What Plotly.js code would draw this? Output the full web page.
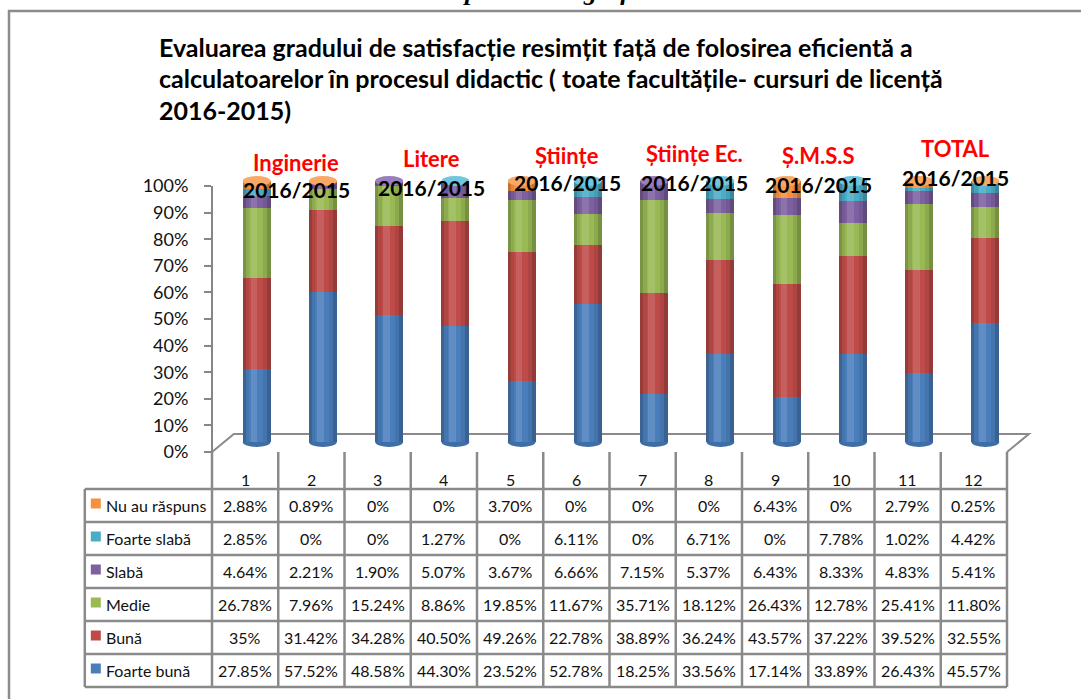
<!DOCTYPE html>
<html>
<head>
<meta charset="utf-8">
<script src="https://cdn.plot.ly/plotly-3.0.1.min.js"></script>
<style>html,body{margin:0;padding:0;background:#fff;overflow:hidden;}#chart{width:1081px;height:699px;overflow:hidden;}</style>
</head>
<body>
<div id="chart"></div>
<script>
// ---------- DATA ----------
const columns = ['1','2','3','4','5','6','7','8','9','10','11','12'];
const seriesNames = ['Foarte bună','Bună','Medie','Slabă','Foarte slabă','Nu au răspuns'];
const foarteBuna   = [27.85,57.52,48.58,44.30,23.52,52.78,18.25,33.56,17.14,33.89,26.43,45.57];
const buna         = [35,31.42,34.28,40.50,49.26,22.78,38.89,36.24,43.57,37.22,39.52,32.55];
const medie        = [26.78,7.96,15.24,8.86,19.85,11.67,35.71,18.12,26.43,12.78,25.41,11.80];
const slaba        = [4.64,2.21,1.90,5.07,3.67,6.66,7.15,5.37,6.43,8.33,4.83,5.41];
const foarteSlaba  = [2.85,0,0,1.27,0,6.11,0,6.71,0,7.78,1.02,4.42];
const nuAuRaspuns  = [2.88,0.89,0,0,3.70,0,0,0,6.43,0,2.79,0.25];
const groupNames   = ['Inginerie','Litere','Științe','Științe Ec.','Ș.M.S.S','TOTAL'];
const groupYear    = '2016/2015';
const titleLines   = ['Evaluarea gradului de satisfacție resimțit față de folosirea eficientă a',
                      'calculatoarelor în procesul didactic ( toate facultățile- cursuri de licență',
                      '2016-2015)'];
const pageHeading  = 'Reprezentare grafică';

// ---------- STYLE / LAYOUT ----------
const W = 1081, H = 699;
const py = p => 1 - p / H;          // pixel row -> paper y
const colors    = ['#4A7EBB','#BE4B48','#98B954','#7D60A0','#4BACC6','#F6913F'];
const capColors = ['#6B97CF','#D46A67','#B3D274','#9A7FBD','#6FC6DE','#F9A965'];
const seriesData = [foarteBuna, buna, medie, slaba, foarteSlaba, nuAuRaspuns];
const x = columns.map((c,i)=>i+1);
const totals = x.map((xi, i) => seriesData.reduce((a, arr) => a + arr[i], 0));
const barW = 0.42, barShift = 0.174;   // cylinder width and 3D shift (x units)
const FONT = 'Lato, "Open Sans", sans-serif';
const gridColor = '#8a8a8a';

const traces = seriesData.map((vals, s) => ({
  type: 'bar', x: x, y: vals, name: seriesNames[s],
  xaxis: 'x', yaxis: 'y2',
  width: barW, offset: barShift - barW/2,
  marker: {color: colors[s], line: {width: 0}},
  hoverinfo: 'name+y', showlegend: false
}));
// cylinder shading strips (drawn over the stacks, heights = column totals)
const shade = [
  {from:0.00, w:0.045, c:'rgba(0,0,0,0.20)'},
  {from:0.045, w:0.05, c:'rgba(0,0,0,0.07)'},
  {from:0.12, w:0.10, c:'rgba(255,255,255,0.12)'},
  {from:0.30, w:0.06, c:'rgba(0,0,0,0.08)'},
  {from:0.36, w:0.06, c:'rgba(0,0,0,0.22)'}
];
shade.forEach(sh => traces.push({type:'bar', x: x, y: totals, base: 0, xaxis:'x', yaxis:'y2',
  width: sh.w, offset: barShift - barW/2 + sh.from, marker:{color: sh.c, line:{width:0}},
  hoverinfo:'skip', showlegend:false}));
// empty carrier so the percentage axis subplot is created
traces.push({type:'scatter', x: [], y: [], xaxis:'x', yaxis:'y', showlegend:false, hoverinfo:'skip'});

const shapes = [];
const annotations = [];

// outer frame: left and top edges (the source is cropped at right and bottom)
shapes.push({type:'line', xref:'paper', yref:'paper', x0: 9/W, x1: 9/W, y0: 0, y1: py(10),
  line:{color:'#8c8c8c', width:2.5}});
shapes.push({type:'line', xref:'paper', yref:'paper', x0: 8/W, x1: 1.05, y0: py(11), y1: py(11),
  line:{color:'#8c8c8c', width:2.5}});

// floor (3D)
const floorFront = py(452), floorBack = py(434), depth = 0.33;
shapes.push({type:'path', xref:'x', yref:'paper', layer:'below',
  path:`M0.5,${floorFront} L${0.5+depth},${floorBack} L${12.5+depth},${floorBack} L12.5,${floorFront}`,
  line:{color:gridColor, width:2}, fillcolor:'rgba(0,0,0,0)'});

// cylinder caps
x.forEach((xi, i) => {
  let top = 0;
  seriesData.forEach((arr, s) => { if (arr[i] > 0) top = s; });
  const c = xi + barShift;
  shapes.push({type:'circle', xref:'x', yref:'y2', layer:'below',
    x0: c - barW/2, x1: c + barW/2, y0: -1.9, y1: 1.9,
    fillcolor: '#3F6EA6', line:{width:0}});
  shapes.push({type:'circle', xref:'x', yref:'y2', layer:'above',
    x0: c - barW/2, x1: c + barW/2, y0: totals[i] - 1.9, y1: totals[i] + 1.9,
    fillcolor: capColors[top], line:{width:0}});
});

// data table
const labelLeft = -1.42;
const headerBottom = 489, rowH = 33;
const rowOrder = [5,4,3,2,1,0];   // top to bottom
for (let k = 0; k <= columns.length; k++) {
  shapes.push({type:'line', xref:'x', yref:'paper', x0: k+0.5, x1: k+0.5,
    y0: py(452), y1: py(headerBottom + rowH*6), line:{color:gridColor, width:2.5}});
}
shapes.push({type:'line', xref:'x', yref:'paper', x0: labelLeft, x1: labelLeft,
  y0: py(headerBottom), y1: py(headerBottom + rowH*6), line:{color:gridColor, width:2.5}});
for (let r = 0; r <= 6; r++) {
  shapes.push({type:'line', xref:'x', yref:'paper', x0: labelLeft, x1: 12.5,
    y0: py(headerBottom + rowH*r), y1: py(headerBottom + rowH*r), line:{color:gridColor, width:2.5}});
}
const cellFont = {family:FONT, size:16, color:'#111'};
columns.forEach((c, i) => annotations.push({xref:'x', yref:'paper', x: i+1, y: py(479),
  xanchor:'center', yanchor:'middle', text: c, showarrow:false, font: cellFont}));
const fmt = v => (v % 1 === 0 ? String(v) : v.toFixed(2)) + '%';
rowOrder.forEach((s, r) => {
  const yc = py(headerBottom + rowH*r + rowH/2);
  shapes.push({type:'rect', xref:'x', yref:'paper', xsizemode:'pixel', ysizemode:'pixel',
    xanchor: labelLeft, yanchor: yc, x0: 6, x1: 16, y0: -3, y1: 7,
    fillcolor: colors[s], line:{width:0}});
  annotations.push({xref:'x', yref:'paper', x: labelLeft, xanchor:'left', xshift: 19, y: yc,
    yanchor:'middle', text: seriesNames[s], showarrow:false, font: cellFont});
  seriesData[s].forEach((v, i) => annotations.push({xref:'x', yref:'paper', x: i+1, y: yc,
    xanchor:'center', yanchor:'middle', text: fmt(v), showarrow:false, font: cellFont}));
});

// group labels above cylinders
const groupX = [1.77, 3.81, 5.86, 7.79, 9.65, 11.72];
const groupNameY = [163,159,155,153,155,149];
const groupYearY = [190,187,183,182,184,178];
groupNames.forEach((g, k) => {
  annotations.push({xref:'x', yref:'paper', x: groupX[k], y: py(groupNameY[k]), text: '<b>'+g+'</b>',
    xanchor:'center', yanchor:'middle', showarrow:false, font:{family:FONT, size:22, color:'#FF0000'}});
  annotations.push({xref:'x', yref:'paper', x: groupX[k], y: py(groupYearY[k]), text: '<b>'+groupYear+'</b>',
    xanchor:'center', yanchor:'middle', showarrow:false, font:{family:FONT, size:21, color:'#000'}});
});

// title
const titleY = [47, 78, 110];
titleLines.forEach((t, k) => annotations.push({xref:'paper', yref:'paper', x: 157/W, y: py(titleY[k]),
  xanchor:'left', yanchor:'middle', text:'<b>'+t+'</b>', showarrow:false,
  font:{family:FONT, size:25, color:'#000'}}));
// cut-off page heading
annotations.push({xref:'paper', yref:'paper', x: 548/W, y: py(-8), xanchor:'center', yanchor:'middle',
  text:'<b><i>'+pageHeading+'</i></b>', showarrow:false,
  font:{family:'"Liberation Serif", "DejaVu Serif", serif', size:26, color:'#000'}});

const layout = {
  width: W, height: H, margin:{l:0, r:0, t:0, b:0},
  paper_bgcolor:'#fff', plot_bgcolor:'rgba(0,0,0,0)',
  barmode:'stack', bargap:0, showlegend:false,
  xaxis:{range:[-2.7, 13.617], visible:false, fixedrange:true, anchor:'y'},
  yaxis:{domain:[py(452), py(186)], range:[0,100], anchor:'free', position: 212/W, side:'left',
    showline:true, linecolor:'#868686', linewidth:2, ticks:'outside', ticklen:7, tickwidth:2,
    tickcolor:'#868686', dtick:10, ticksuffix:'%', showgrid:false, zeroline:false,
    ticklabelstandoff: 12, tickfont:{family:FONT, size:18, color:'#111'}, fixedrange:true},
  yaxis2:{domain:[py(448.5), py(174.5)], range:[-2.5, 102.5], visible:false, anchor:'x', fixedrange:true},
  shapes: shapes, annotations: annotations
};

Plotly.newPlot('chart', traces, layout, {displayModeBar:false, staticPlot:true});
</script>
</body>
</html>
